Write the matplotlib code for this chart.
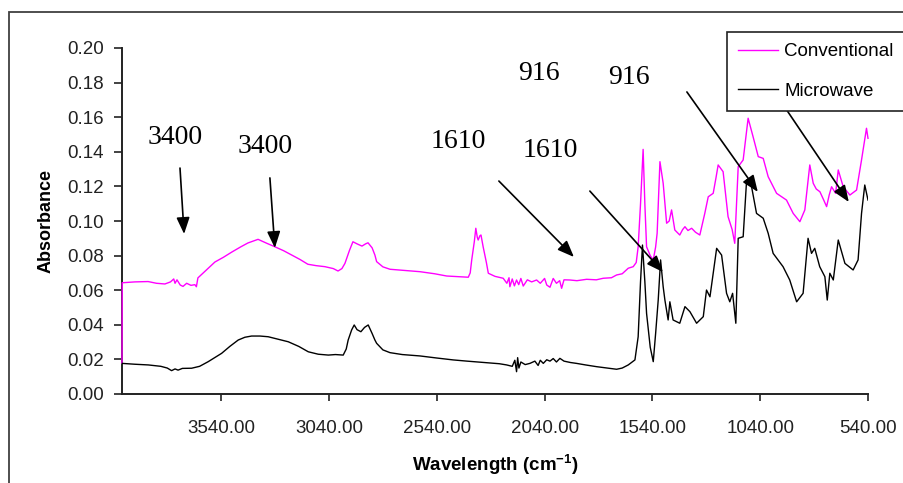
import matplotlib.pyplot as plt
from matplotlib.patches import Rectangle
from matplotlib.ticker import FormatStrFormatter

plt.rcParams['font.family'] = 'Liberation Sans'
plt.rcParams['mathtext.fontset'] = 'custom'
plt.rcParams['mathtext.rm'] = 'Liberation Sans:bold'
plt.rcParams['mathtext.bf'] = 'Liberation Sans:bold'

# FTIR spectra, wavenumber in cm-1 (high to low) and absorbance
conv_wn = [4000, 3999, 3940, 3879, 3840, 3801, 3775, 3760, 3754, 3745,
           3730, 3717, 3700, 3680, 3662, 3655, 3648, 3610, 3569, 3530,
           3490, 3450, 3416, 3369, 3330, 3291, 3250, 3212, 3175, 3138,
           3100, 3059, 3020, 2998, 2980, 2966, 2945, 2929, 2910, 2887,
           2870, 2859, 2840, 2827, 2819, 2790, 2757, 2700, 2618, 2550,
           2494, 2440, 2394, 2385, 2378, 2366, 2359, 2352, 2348, 2340,
           2335, 2325, 2310, 2301, 2270, 2232, 2215, 2205, 2201, 2190,
           2180, 2170, 2160, 2150, 2139, 2120, 2100, 2077, 2060, 2040,
           2030, 2015, 2000, 1985, 1970, 1961, 1950, 1923, 1890, 1845,
           1800, 1768, 1730, 1706, 1680, 1652, 1629, 1615, 1606, 1595,
           1583, 1575, 1567, 1550, 1536, 1525, 1518, 1505, 1490, 1474,
           1462, 1451, 1436, 1413, 1400, 1389, 1375, 1358, 1340, 1320,
           1297, 1281, 1258, 1245, 1235, 1212, 1189, 1170, 1158, 1142,
           1119, 1096, 1073, 1049, 1026, 1003, 964, 918, 887, 856,
           833, 810, 794, 780, 763, 745, 732, 720, 709, 690,
           678, 665, 655, 624, 593, 570, 547, 540]
conv_abs = [0.0180, 0.0643, 0.0648, 0.0650, 0.0640, 0.0636, 0.0648, 0.0665, 0.0640, 0.0660,
            0.0630, 0.0622, 0.0640, 0.0628, 0.0632, 0.0620, 0.0671, 0.0715, 0.0763, 0.0790,
            0.0821, 0.0850, 0.0873, 0.0894, 0.0872, 0.0851, 0.0828, 0.0803, 0.0778, 0.0750,
            0.0742, 0.0736, 0.0725, 0.0711, 0.0725, 0.0755, 0.0830, 0.0880, 0.0868, 0.0855,
            0.0868, 0.0874, 0.0845, 0.0803, 0.0765, 0.0735, 0.0721, 0.0715, 0.0707, 0.0695,
            0.0682, 0.0678, 0.0675, 0.0700, 0.0775, 0.0880, 0.0958, 0.0905, 0.0890, 0.0915,
            0.0919, 0.0851, 0.0760, 0.0698, 0.0680, 0.0669, 0.0640, 0.0672, 0.0620, 0.0665,
            0.0625, 0.0659, 0.0632, 0.0668, 0.0624, 0.0660, 0.0648, 0.0659, 0.0640, 0.0668,
            0.0630, 0.0617, 0.0668, 0.0640, 0.0655, 0.0611, 0.0660, 0.0659, 0.0655, 0.0663,
            0.0660, 0.0669, 0.0672, 0.0688, 0.0695, 0.0727, 0.0736, 0.0760, 0.0851, 0.1100,
            0.1414, 0.1100, 0.0851, 0.0800, 0.0775, 0.0850, 0.0929, 0.1343, 0.1218, 0.0987,
            0.1000, 0.1064, 0.0948, 0.0919, 0.0950, 0.0967, 0.0945, 0.0958, 0.0935, 0.0919,
            0.1044, 0.1140, 0.1160, 0.1250, 0.1324, 0.1285, 0.1025, 0.0950, 0.0871, 0.1314,
            0.1353, 0.1594, 0.1487, 0.1372, 0.1362, 0.1256, 0.1160, 0.1121, 0.1044, 0.0996,
            0.1064, 0.1324, 0.1218, 0.1185, 0.1169, 0.1120, 0.1083, 0.1150, 0.1198, 0.1160,
            0.1295, 0.1240, 0.1198, 0.1150, 0.1179, 0.1353, 0.1536, 0.1478]

micro_wn = [4000, 3940, 3878, 3820, 3790, 3770, 3754, 3740, 3720, 3677,
            3640, 3600, 3538, 3500, 3461, 3430, 3399, 3360, 3322, 3280,
            3229, 3180, 3136, 3090, 3043, 3010, 2974, 2960, 2951, 2935,
            2923, 2910, 2892, 2875, 2858, 2840, 2827, 2819, 2790, 2757,
            2700, 2618, 2540, 2464, 2400, 2309, 2250, 2216, 2190, 2178,
            2170, 2165, 2159, 2150, 2130, 2108, 2085, 2070, 2060, 2046,
            2030, 2015, 2000, 1985, 1969, 1950, 1920, 1892, 1850, 1799,
            1750, 1706, 1680, 1652, 1621, 1606, 1595, 1586, 1575, 1567,
            1550, 1536, 1525, 1513, 1502, 1490, 1482, 1467, 1459, 1444,
            1413, 1389, 1366, 1335, 1304, 1289, 1273, 1242, 1219, 1196,
            1181, 1168, 1153, 1142, 1119, 1103, 1080, 1057, 1026, 1003,
            980, 934, 903, 871, 841, 818, 802, 787, 764, 740,
            729, 717, 701, 678, 647, 609, 586, 570, 555, 540]
micro_abs = [0.0177, 0.0172, 0.0168, 0.0160, 0.0150, 0.0135, 0.0145, 0.0138, 0.0148, 0.0149,
             0.0160, 0.0187, 0.0235, 0.0275, 0.0312, 0.0328, 0.0335, 0.0335, 0.0331, 0.0318,
             0.0302, 0.0275, 0.0244, 0.0230, 0.0225, 0.0228, 0.0225, 0.0260, 0.0312, 0.0370,
             0.0399, 0.0372, 0.0360, 0.0385, 0.0399, 0.0350, 0.0312, 0.0293, 0.0255, 0.0239,
             0.0228, 0.0220, 0.0208, 0.0197, 0.0190, 0.0181, 0.0175, 0.0168, 0.0160, 0.0195,
             0.0129, 0.0210, 0.0150, 0.0185, 0.0170, 0.0177, 0.0190, 0.0165, 0.0195, 0.0177,
             0.0198, 0.0190, 0.0205, 0.0185, 0.0206, 0.0190, 0.0182, 0.0177, 0.0168, 0.0158,
             0.0150, 0.0143, 0.0150, 0.0168, 0.0197, 0.0331, 0.0650, 0.0861, 0.0650, 0.0466,
             0.0270, 0.0187, 0.0350, 0.0543, 0.0775, 0.0620, 0.0543, 0.0428, 0.0533, 0.0428,
             0.0409, 0.0505, 0.0476, 0.0409, 0.0447, 0.0601, 0.0562, 0.0842, 0.0803, 0.0582,
             0.0533, 0.0582, 0.0409, 0.0900, 0.0909, 0.1237, 0.1198, 0.1044, 0.1016, 0.0929,
             0.0813, 0.0736, 0.0659, 0.0533, 0.0582, 0.0900, 0.0813, 0.0842, 0.0736, 0.0678,
             0.0543, 0.0698, 0.0659, 0.0890, 0.0755, 0.0717, 0.0775, 0.1044, 0.1208, 0.1121]

# band labels: text, text position, arrow tail, arrow head
band_labels = ['3400', '3400', '1610', '1610', '916', '916']
label_pos = [(3754, 0.148), (3337, 0.143), (2442, 0.146), (2015, 0.141), (2067, 0.1855), (1649, 0.183)]
arrow_tail = [(3731, 0.1306), (3314, 0.1249), (2252, 0.1231), (1830, 0.1173), (1380, 0.1746), (958, 0.1717)]
arrow_head = [(3712, 0.0925), (3291, 0.0844), (1904, 0.0792), (1491, 0.0705), (1051, 0.1168), (629, 0.1110)]

x_ticks = [3540, 3040, 2540, 2040, 1540, 1040, 540]
y_ticks = [0.00, 0.02, 0.04, 0.06, 0.08, 0.10, 0.12, 0.14, 0.16, 0.18, 0.20]

W, H = 904, 483
fig = plt.figure(figsize=(W / 100, H / 100), dpi=100)
ax = fig.add_axes([122 / W, 1 - 394 / H, (868 - 122) / W, (394 - 48) / H])

# outer chart frame
fig.add_artist(Rectangle((9 / W, -0.05), 1.2, 1 - 12 / H + 0.05, transform=fig.transFigure,
                         fill=False, edgecolor='#404040', lw=1.3))

ax.plot(conv_wn, conv_abs, color='#ff00ff', lw=1.0, label='Conventional', zorder=3, clip_on=False)
ax.plot(micro_wn, micro_abs, color='black', lw=1.0, label='Microwave', zorder=3)

ax.set_xlim(4000, 540)
ax.set_ylim(0, 0.20)
ax.set_xticks(x_ticks)
ax.set_yticks(y_ticks)
ax.xaxis.set_major_formatter(FormatStrFormatter('%.2f'))
ax.yaxis.set_major_formatter(FormatStrFormatter('%.2f'))
ax.tick_params(axis='x', direction='out', length=5, width=1.2, pad=14, labelsize=13.5, colors='#222222')
ax.tick_params(axis='y', direction='out', length=6, width=1.2, pad=7, labelsize=13.5, colors='#222222')

for side in ['top', 'right']:
    ax.spines[side].set_visible(False)
for side in ['left', 'bottom']:
    ax.spines[side].set_linewidth(1.4)
    ax.spines[side].set_color('#222222')

ax.set_ylabel('Absorbance', fontsize=13, fontweight='bold', labelpad=9)
ax.set_xlabel(r'Wavelength (cm$^{-1}$)', fontsize=13.5, fontweight='bold', labelpad=11)

for txt, pos, tail, head in zip(band_labels, label_pos, arrow_tail, arrow_head):
    ax.text(pos[0], pos[1], txt, fontsize=20, family='Liberation Serif', ha='center', va='center')
    ax.annotate('', xy=head, xytext=tail,
                arrowprops=dict(arrowstyle='-|>,head_length=1.0,head_width=0.4',
                                color='black', lw=1.2, shrinkA=0, shrinkB=0))

leg = ax.legend(loc='upper left', bbox_to_anchor=(727 / W, 1 - 32 / H), bbox_transform=fig.transFigure,
                fontsize=13.5, frameon=True, fancybox=False, framealpha=1, edgecolor='#222222',
                borderaxespad=0, borderpad=0.6, labelspacing=1.2, handlelength=2.1, handletextpad=0.35)
leg.get_frame().set_linewidth(1.2)

fig.savefig('out.png', dpi=100)
